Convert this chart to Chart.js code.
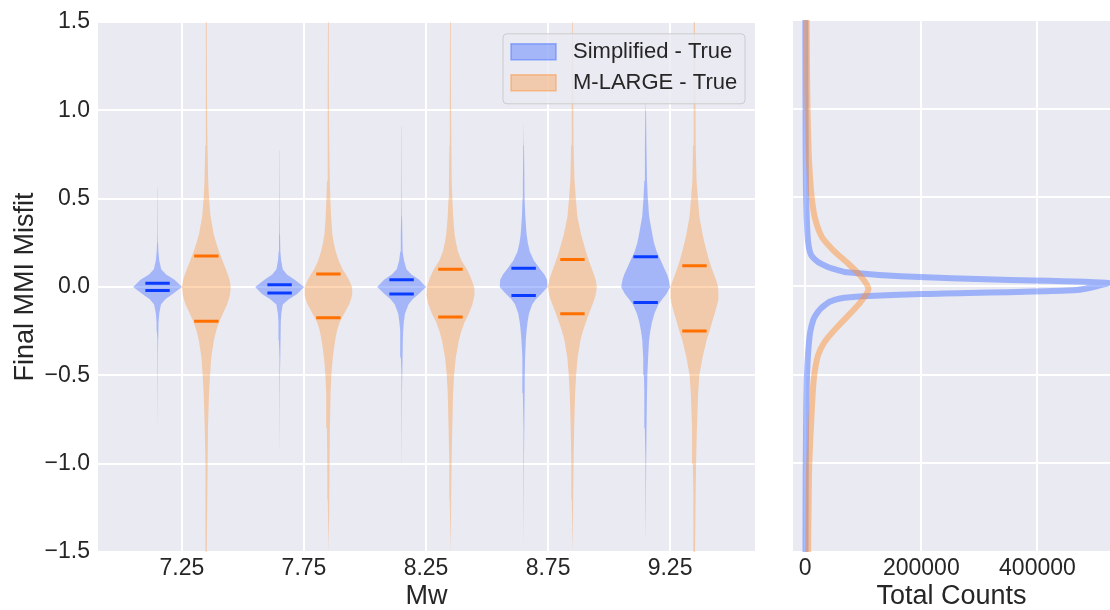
<!DOCTYPE html>
<html><head><meta charset="utf-8">
<script src="https://cdn.jsdelivr.net/npm/chart.js@4.4.1/dist/chart.umd.min.js"></script>
<style>
html,body{margin:0;padding:0;background:#fff;}
#wrap{position:relative;width:1110px;height:610px;}
#left{position:absolute;left:0;top:0;}
#right{position:absolute;left:775px;top:0;}
</style></head><body>
<div id="wrap"><canvas id="left" width="775" height="610"></canvas><canvas id="right" width="335" height="610"></canvas></div>
<script>
// ---------- data ----------
const mwTicks = [7.25, 7.75, 8.25, 8.75, 9.25];
const mwTickLabels = ['7.25', '7.75', '8.25', '8.75', '9.25'];
const misfitTicks = [-1.5, -1.0, -0.5, 0, 0.5, 1.0, 1.5];
const misfitTickLabels = ['\u22121.5', '\u22121.0', '\u22120.5', '0.0', '0.5', '1.0', '1.5'];
const countTicks = [0, 200000, 400000];
const countTickLabels = ['0', '200000', '400000'];
const seriesNames = ['Simplified - True', 'M-LARGE - True'];

// misfit levels at which violin relative half-widths were read
const profileLevels = [1.5, 1.2, 1.0, 0.8, 0.6, 0.5, 0.4, 0.3, 0.25, 0.2, 0.15, 0.1, 0.07, 0.04, 0.0,
  -0.04, -0.07, -0.1, -0.15, -0.2, -0.25, -0.3, -0.4, -0.5, -0.6, -0.8, -1.0, -1.2, -1.5];

const simplifiedWidths = [
  [0,0,0,0,0,0.008,0.01,0.015,0.02,0.035,0.07,0.15,0.35,0.7,1.0,0.62,0.32,0.14,0.07,0.04,0.03,0.022,0.015,0.011,0.008,0.004,0,0,0],
  [0,0,0,0.004,0.008,0.01,0.014,0.018,0.024,0.038,0.065,0.13,0.3,0.62,1.0,0.72,0.38,0.13,0.07,0.05,0.038,0.03,0.02,0.015,0.01,0.005,0,0,0],
  [0,0,0,0.005,0.01,0.014,0.018,0.028,0.038,0.055,0.1,0.2,0.4,0.72,1.0,0.7,0.45,0.28,0.14,0.09,0.065,0.05,0.03,0.022,0.015,0.008,0.004,0,0],
  [0,0,0.005,0.015,0.03,0.045,0.07,0.12,0.17,0.25,0.42,0.68,0.85,0.96,0.98,0.72,0.5,0.35,0.22,0.16,0.12,0.09,0.06,0.045,0.032,0.02,0.013,0.008,0.003],
  [0,0.004,0.015,0.03,0.055,0.09,0.14,0.27,0.34,0.45,0.62,0.78,0.88,0.95,1.0,0.85,0.68,0.52,0.36,0.26,0.19,0.14,0.1,0.07,0.055,0.035,0.02,0.01,0.004]
];
const simplifiedTop = [0.56, 0.77, 0.91, 0.94, 1.08];
const simplifiedBottom = [-0.82, -0.96, -1.05, -1.49, -1.45];

const mlargeWidths = [
  [0.015,0.022,0.03,0.045,0.075,0.11,0.17,0.3,0.4,0.52,0.66,0.8,0.88,0.95,1.0,0.97,0.92,0.85,0.68,0.52,0.4,0.31,0.2,0.15,0.11,0.065,0.045,0.03,0.015],
  [0.015,0.02,0.025,0.035,0.055,0.08,0.11,0.16,0.22,0.3,0.42,0.58,0.72,0.84,0.97,0.98,0.93,0.85,0.65,0.46,0.35,0.28,0.18,0.12,0.09,0.06,0.045,0.028,0.015],
  [0.015,0.02,0.028,0.04,0.06,0.08,0.11,0.17,0.23,0.31,0.45,0.68,0.78,0.87,0.97,0.99,0.95,0.9,0.76,0.58,0.45,0.35,0.22,0.15,0.11,0.075,0.045,0.03,0.015],
  [0.015,0.025,0.035,0.055,0.085,0.14,0.2,0.35,0.45,0.55,0.67,0.8,0.88,0.95,1.0,0.96,0.9,0.82,0.68,0.55,0.43,0.33,0.21,0.15,0.11,0.07,0.045,0.03,0.018],
  [0.02,0.03,0.04,0.06,0.085,0.14,0.2,0.33,0.41,0.5,0.6,0.72,0.8,0.88,0.97,1.0,0.97,0.93,0.83,0.72,0.62,0.5,0.33,0.2,0.15,0.1,0.065,0.045,0.025]
];

const simplifiedUpper = [0.02, 0.012, 0.04, 0.105, 0.17];
const simplifiedLower = [-0.02, -0.035, -0.04, -0.048, -0.088];
const mlargeUpper = [0.175, 0.073, 0.10, 0.155, 0.12];
const mlargeLower = [-0.195, -0.175, -0.17, -0.152, -0.25];

const histLevelsSimplified = [1.5, 1.2, 1.0, 0.8, 0.6, 0.5, 0.4, 0.32, 0.25, 0.2, 0.17, 0.135, 0.106, 0.09, 0.077, 0.055, 0.035, 0.017,
  -0.022, -0.045, -0.058, -0.07, -0.088, -0.11, -0.13, -0.16, -0.19, -0.26, -0.37, -0.52, -0.7, -1.0, -1.2, -1.5];
const histCountsSimplified = [300, 400, 600, 800, 1200, 1600, 2500, 3500, 5000, 7500, 11000, 22000, 40000, 56000, 72000, 164000, 340000, 522000,
  468000, 200000, 100000, 60000, 43000, 33000, 26000, 19000, 14000, 8600, 5200, 2900, 1800, 1000, 700, 500];
const histLevelsMlarge = [1.5, 1.2, 1.0, 0.75, 0.6, 0.49, 0.38, 0.275, 0.2, 0.133, 0.058, -0.017, -0.092, -0.167, -0.243, -0.318, -0.393, -0.52, -0.69, -1.0, -1.2, -1.5];
const histCountsMlarge = [2500, 3200, 4000, 6000, 8600, 11500, 17000, 29000, 49000, 72000, 95000, 109000, 95000, 74000, 52000, 33000, 22000, 15000, 11500, 7000, 6000, 5000];

// ---------- styling ----------
const BLUE_FILL = 'rgba(80,120,255,0.45)';
const ORANGE_FILL = 'rgba(255,140,40,0.35)';
const BLUE_LINE = '#0a3cff';
const ORANGE_LINE = '#ff7000';
const VIOLIN_OFFSET = 0.1, VIOLIN_HALF = 0.1, BAR_HALF = 0.05;
const FONT = "'Liberation Sans', Arial, Helvetica, sans-serif";
Chart.defaults.font.family = FONT;
Chart.defaults.color = '#262626';

function violinPoints(center, widths, top, bottom) {
  const lv = [], wv = [];
  if (top !== undefined) { lv.push(top); wv.push(0); }
  profileLevels.forEach((y, i) => {
    if ((top === undefined || y < top) && (bottom === undefined || y > bottom)) { lv.push(y); wv.push(widths[i]); }
  });
  if (bottom !== undefined) { lv.push(bottom); wv.push(0); }
  const pts = [];
  for (let i = 0; i < lv.length; i++) pts.push({x: center + wv[i] * VIOLIN_HALF, y: lv[i]});
  for (let i = lv.length - 1; i >= 0; i--) pts.push({x: center - wv[i] * VIOLIN_HALF, y: lv[i]});
  return pts;
}
function barPoints(center, v) { return [{x: center - BAR_HALF, y: v}, {x: center + BAR_HALF, y: v}]; }

const leftSets = [];
mwTicks.forEach((mw, i) => {
  const cb = mw - VIOLIN_OFFSET, co = mw + VIOLIN_OFFSET;
  leftSets.push({data: violinPoints(cb, simplifiedWidths[i], simplifiedTop[i], simplifiedBottom[i]), showLine: true, fill: 'shape',
    backgroundColor: BLUE_FILL, borderWidth: 0, pointRadius: 0, order: 2});
  leftSets.push({data: violinPoints(co, mlargeWidths[i]), showLine: true, fill: 'shape',
    backgroundColor: ORANGE_FILL, borderWidth: 0, pointRadius: 0, order: 2});
  [simplifiedUpper[i], simplifiedLower[i]].forEach(v => leftSets.push({data: barPoints(cb, v), showLine: true, fill: false,
    borderColor: BLUE_LINE, borderWidth: 3, pointRadius: 0, order: 1}));
  [mlargeUpper[i], mlargeLower[i]].forEach(v => leftSets.push({data: barPoints(co, v), showLine: true, fill: false,
    borderColor: ORANGE_LINE, borderWidth: 3, pointRadius: 0, order: 1}));
});

const bgPlugin = {id: 'bg', beforeDraw(chart) {
  const {ctx, chartArea: a} = chart; ctx.save(); ctx.fillStyle = '#EAEAF2';
  ctx.fillRect(a.left, a.top, a.right - a.left, a.bottom - a.top); ctx.restore(); }};

const legendPlugin = {id: 'boxLegend', afterDraw(chart) {
  const {ctx, chartArea: a} = chart;
  const w = 242, h = 70, x = a.right - 10 - w, y = a.top + 12;
  ctx.save();
  ctx.beginPath(); ctx.roundRect(x, y, w, h, 4);
  ctx.fillStyle = 'rgba(234,234,242,0.8)'; ctx.fill();
  ctx.strokeStyle = '#cccccc'; ctx.lineWidth = 1; ctx.stroke();
  const fills = [BLUE_FILL, ORANGE_FILL];
  const edges = ['rgba(80,120,255,0.55)', 'rgba(255,140,40,0.45)'];
  seriesNames.forEach((name, i) => {
    const py = y + 10 + i * 31;
    ctx.fillStyle = fills[i]; ctx.fillRect(x + 8, py, 45, 16);
    ctx.strokeStyle = edges[i]; ctx.lineWidth = 1.5; ctx.strokeRect(x + 8, py, 45, 16);
    ctx.fillStyle = '#262626'; ctx.font = '22px ' + FONT; ctx.textBaseline = 'middle'; ctx.textAlign = 'left';
    ctx.fillText(name, x + 70, py + 8.5);
  });
  ctx.restore();
}};

const gridOpts = {color: '#ffffff', lineWidth: 2, drawTicks: false};

new Chart(document.getElementById('left'), {
  type: 'scatter',
  data: {datasets: leftSets},
  options: {
    responsive: false, animation: false, devicePixelRatio: 1, events: [],
    layout: {padding: {top: 20, right: 20, left: 0, bottom: 0}},
    plugins: {legend: {display: false}, tooltip: {enabled: false}},
    scales: {
      x: {type: 'linear', min: 6.906, max: 9.598,
        afterBuildTicks: s => { s.ticks = mwTicks.map(v => ({value: v})); },
        afterFit: s => { s.height = 58; },
        grid: gridOpts, border: {display: false},
        ticks: {font: {size: 23}, padding: 3, autoSkip: false, maxRotation: 0, callback: (v, i) => mwTickLabels[i]},
        title: {display: true, text: 'Mw', font: {size: 27, lineHeight: 1}, padding: {top: 0, bottom: 0}}
      },
      y: {type: 'linear', min: -1.5, max: 1.5,
        afterBuildTicks: s => { s.ticks = misfitTicks.map(v => ({value: v})); },
        afterFit: s => { s.width = 98; },
        grid: gridOpts, border: {display: false},
        ticks: {font: {size: 23}, padding: 8, autoSkip: false, callback: (v, i) => misfitTickLabels[i]},
        title: {display: true, text: 'Final MMI Misfit', font: {size: 27, lineHeight: 1}, padding: {top: 12, bottom: 0}}
      }
    }
  },
  plugins: [bgPlugin, legendPlugin]
});

const toPts = (levels, counts) => levels.map((y, i) => ({x: counts[i], y}));
new Chart(document.getElementById('right'), {
  type: 'scatter',
  data: {datasets: [
    {data: toPts(histLevelsMlarge, histCountsMlarge), showLine: true, fill: false, borderColor: 'rgba(255,140,40,0.45)',
      borderWidth: 6, pointRadius: 0, tension: 0.25},
    {data: toPts(histLevelsSimplified, histCountsSimplified), showLine: true, fill: false, borderColor: 'rgba(80,120,255,0.5)',
      borderWidth: 6, pointRadius: 0, tension: 0.2}
  ]},
  options: {
    responsive: false, animation: false, devicePixelRatio: 1, events: [],
    layout: {padding: {top: 20, right: 0, left: 0, bottom: 0}},
    plugins: {legend: {display: false}, tooltip: {enabled: false}},
    scales: {
      x: {type: 'linear', min: -21000, max: 525000,
        afterBuildTicks: s => { s.ticks = countTicks.map(v => ({value: v})); },
        afterFit: s => { s.height = 58; },
        grid: gridOpts, border: {display: false},
        ticks: {font: {size: 23}, padding: 3, autoSkip: false, maxRotation: 0, callback: (v, i) => countTickLabels[i]},
        title: {display: true, text: 'Total Counts', font: {size: 27, lineHeight: 1}, padding: {top: 0, bottom: 0}}
      },
      y: {type: 'linear', min: -1.5, max: 1.5,
        afterBuildTicks: s => { s.ticks = misfitTicks.map(v => ({value: v})); },
        afterFit: s => { s.width = 18; },
        grid: gridOpts, border: {display: false},
        ticks: {display: false}
      }
    }
  },
  plugins: [bgPlugin]
});
</script>
</body></html>
